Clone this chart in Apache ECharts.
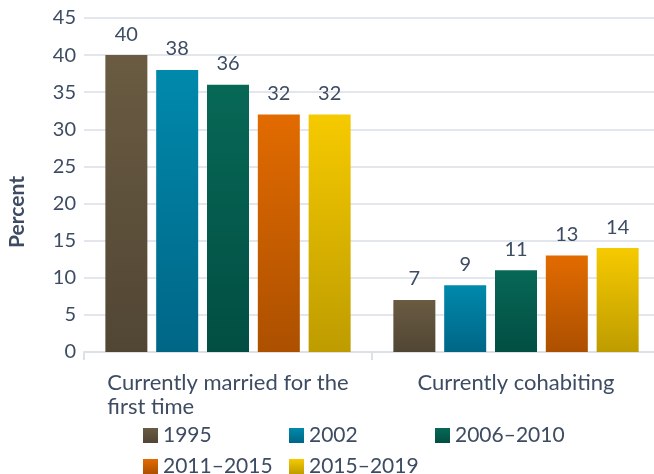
<!DOCTYPE html>
<html>
<head>
<meta charset="utf-8">
<script src="https://cdn.jsdelivr.net/npm/echarts@6/dist/echarts.min.js"></script>
<style>
  html, body { margin: 0; padding: 0; background: #fff; }
  #chart { width: 654px; height: 474px; }
</style>
</head>
<body>
<div id="chart"></div>
<script>
  const categories = ['Currently married for the first time', 'Currently cohabiting'];
  const seriesNames = ['1995', '2002', '2006–2010', '2011–2015', '2015–2019'];
  const values1995 = [40, 7];
  const values2002 = [38, 9];
  const values2006 = [36, 11];
  const values2011 = [32, 13];
  const values2015 = [32, 14];
  const yTicks = { min: 0, max: 45, interval: 5 };

  const textColor = '#3d4c63';
  const font = 'Lato';

  // top / bottom colours of each bar gradient
  const colors = [
    ['#6a5b42', '#514634'],
    ['#0089ac', '#006686'],
    ['#076856', '#024e43'],
    ['#e26b00', '#ac5000'],
    ['#f6ca00', '#be9c00'],
  ];
  const allValues = [values1995, values2002, values2006, values2011, values2015];

  // legend slots: two rows, fixed columns
  const legendPos = [[138, 420], [284, 420], [430, 420], [138, 451], [284, 451]];

  // simple word wrap, lines stay left aligned inside a centred block
  function wrap(text, maxChars) {
    const words = text.split(' ');
    const lines = [];
    let line = '';
    words.forEach(w => {
      const next = line ? line + ' ' + w : w;
      if (next.length > maxChars && line) {
        lines.push(line);
        line = w;
      } else {
        line = next;
      }
    });
    lines.push(line);
    return lines.join('\n');
  }

  const chart = echarts.init(document.getElementById('chart'));

  const option = {
    textStyle: { fontFamily: font },
    animation: false,
    grid: { left: 84, right: -6, top: 18, bottom: 122, outerBoundsMode: 'none' },
    legend: seriesNames.map((name, i) => ({
      left: legendPos[i][0],
      top: legendPos[i][1],
      itemWidth: 15,
      itemHeight: 15,
      icon: 'rect',
      textStyle: { color: textColor, fontSize: 21, fontFamily: font },
      data: [name],
    })),
    xAxis: {
      type: 'category',
      data: categories,
      axisLine: { lineStyle: { color: '#dce1e8', width: 2 } },
      axisTick: { show: true, length: 8, lineStyle: { color: '#dce1e8', width: 2 } },
      axisLabel: {
        margin: 19,
        formatter: v => '{a|' + wrap(v, 26) + '}',
        rich: {
          a: { align: 'left', color: textColor, fontSize: 22, fontFamily: font, lineHeight: 24 },
        },
      },
    },
    yAxis: {
      type: 'value',
      min: yTicks.min,
      max: yTicks.max,
      interval: yTicks.interval,
      name: 'Percent',
      nameLocation: 'middle',
      nameGap: 56,
      nameTextStyle: {
        color: textColor, fontSize: 21, fontWeight: 'bold', fontFamily: font,
        padding: [0, 54, 0, 0],
      },
      axisLine: { show: false },
      axisTick: { show: false },
      axisLabel: { color: textColor, fontSize: 20, margin: 8 },
      splitLine: { lineStyle: { color: '#e3e7ed', width: 2 } },
    },
    series: seriesNames.map((name, i) => ({
      name: name,
      type: 'bar',
      data: allValues[i],
      barWidth: 42,
      barGap: '21%',
      itemStyle: {
        color: new echarts.graphic.LinearGradient(0, 0, 0, 1, [
          { offset: 0, color: colors[i][0] },
          { offset: 1, color: colors[i][1] },
        ]),
      },
      label: {
        show: true,
        position: 'top',
        distance: 11,
        color: textColor,
        fontSize: 20,
        fontFamily: font,
      },
    })),
  };

  chart.setOption(option);
</script>
</body>
</html>
